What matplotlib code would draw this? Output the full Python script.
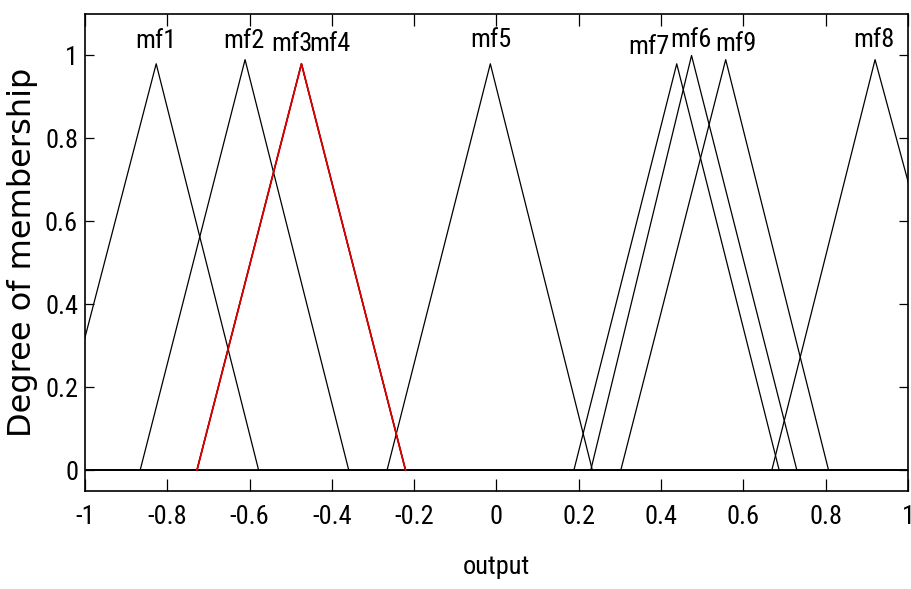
import numpy as np
import matplotlib.pyplot as plt
from matplotlib import font_manager
from matplotlib.font_manager import FontProperties

# triangular membership functions: [left foot, peak, right foot]
mf_names = ['mf1', 'mf2', 'mf3', 'mf4', 'mf5', 'mf6', 'mf7', 'mf8', 'mf9']
left_feet = [-1.084, -0.866, -0.728, -0.728, -0.266, 0.229, 0.188, 0.669, 0.302]
peak_pos = [-0.827, -0.611, -0.474, -0.474, -0.015, 0.474, 0.438, 0.920, 0.557]
right_feet = [-0.578, -0.359, -0.221, -0.221, 0.233, 0.730, 0.687, 1.19, 0.807]
peak_height = [0.98, 0.99, 0.98, 0.98, 0.98, 1.0, 0.98, 0.99, 0.99]
selected_mf = 'mf4'

# where the name labels sit
label_x = [-0.828, -0.613, -0.497, -0.404, -0.014, 0.473, 0.371, 0.918, 0.582]
label_y = [1.0175, 1.0175, 1.012, 1.012, 1.02, 1.02, 1.004, 1.02, 1.012]

x_ticks = [-1, -0.8, -0.6, -0.4, -0.2, 0, 0.2, 0.4, 0.6, 0.8, 1]
x_tick_labels = ['-1', '-0.8', '-0.6', '-0.4', '-0.2', '0', '0.2', '0.4', '0.6', '0.8', '1']
y_ticks = [0, 0.2, 0.4, 0.6, 0.8, 1]
y_tick_labels = ['0', '0.2', '0.4', '0.6', '0.8', '1']

# try to find a narrow face, the MATLAB text looks squeezed
fonts = font_manager.fontManager.ttflist
names = {f.name for f in fonts}
narrow = None
for cand in ['Liberation Sans Narrow', 'Roboto Condensed', 'Open Sans Condensed', 'Arial Narrow']:
    if cand in names:
        narrow = FontProperties(family=cand, size=19)
        break
if narrow is None:
    cond = [f for f in fonts if f.name in ('DejaVu Sans', 'Roboto', 'Open Sans', 'Noto Sans')
            and f.stretch in ('condensed', 'semi-condensed', 'extra-condensed')]
    if cond:
        narrow = FontProperties(family=cond[0].name, stretch=cond[0].stretch, size=19)
    else:
        narrow = FontProperties(family='Liberation Sans', size=17)

fig = plt.figure(figsize=(9.11, 5.89), dpi=100)
ax = fig.add_axes([0.0933, 0.1664, 0.9034, 0.8098])

for name, a, b, c, h in zip(mf_names, left_feet, peak_pos, right_feet, peak_height):
    xs = [min(-1, a), a, b, c, max(1, c)]
    ys = [0, 0, h, 0, 0]
    ax.plot(xs, ys, color='black', lw=0.9)
    if name == selected_mf:
        # only the triangle itself is highlighted
        ax.plot([a, b, c], [0, h, 0], color='#dd0000', lw=1.3, zorder=3)

for name, lx, ly in zip(mf_names, label_x, label_y):
    ax.text(lx, ly, name, ha='center', va='baseline', fontproperties=narrow)

ax.set_xlim(-1, 1)
ax.set_ylim(-0.05, 1.1)
ax.set_xticks(x_ticks)
ax.set_xticklabels(x_tick_labels, fontproperties=narrow)
ax.set_yticks(y_ticks)
ax.set_yticklabels(y_tick_labels, fontproperties=narrow)
ax.tick_params(axis='both', direction='in', top=True, right=True, width=0.9)
ax.tick_params(axis='x', length=8.5, pad=10)
ax.tick_params(axis='y', length=6.5, pad=5)
for sp in ax.spines.values():
    sp.set_linewidth(1.2)

ax.set_xlabel('output', fontproperties=narrow, labelpad=19)
ax.set_ylabel('Degree of membership', family='DejaVu Sans', fontsize=23, labelpad=5)

fig.savefig('out.png', dpi=100)
